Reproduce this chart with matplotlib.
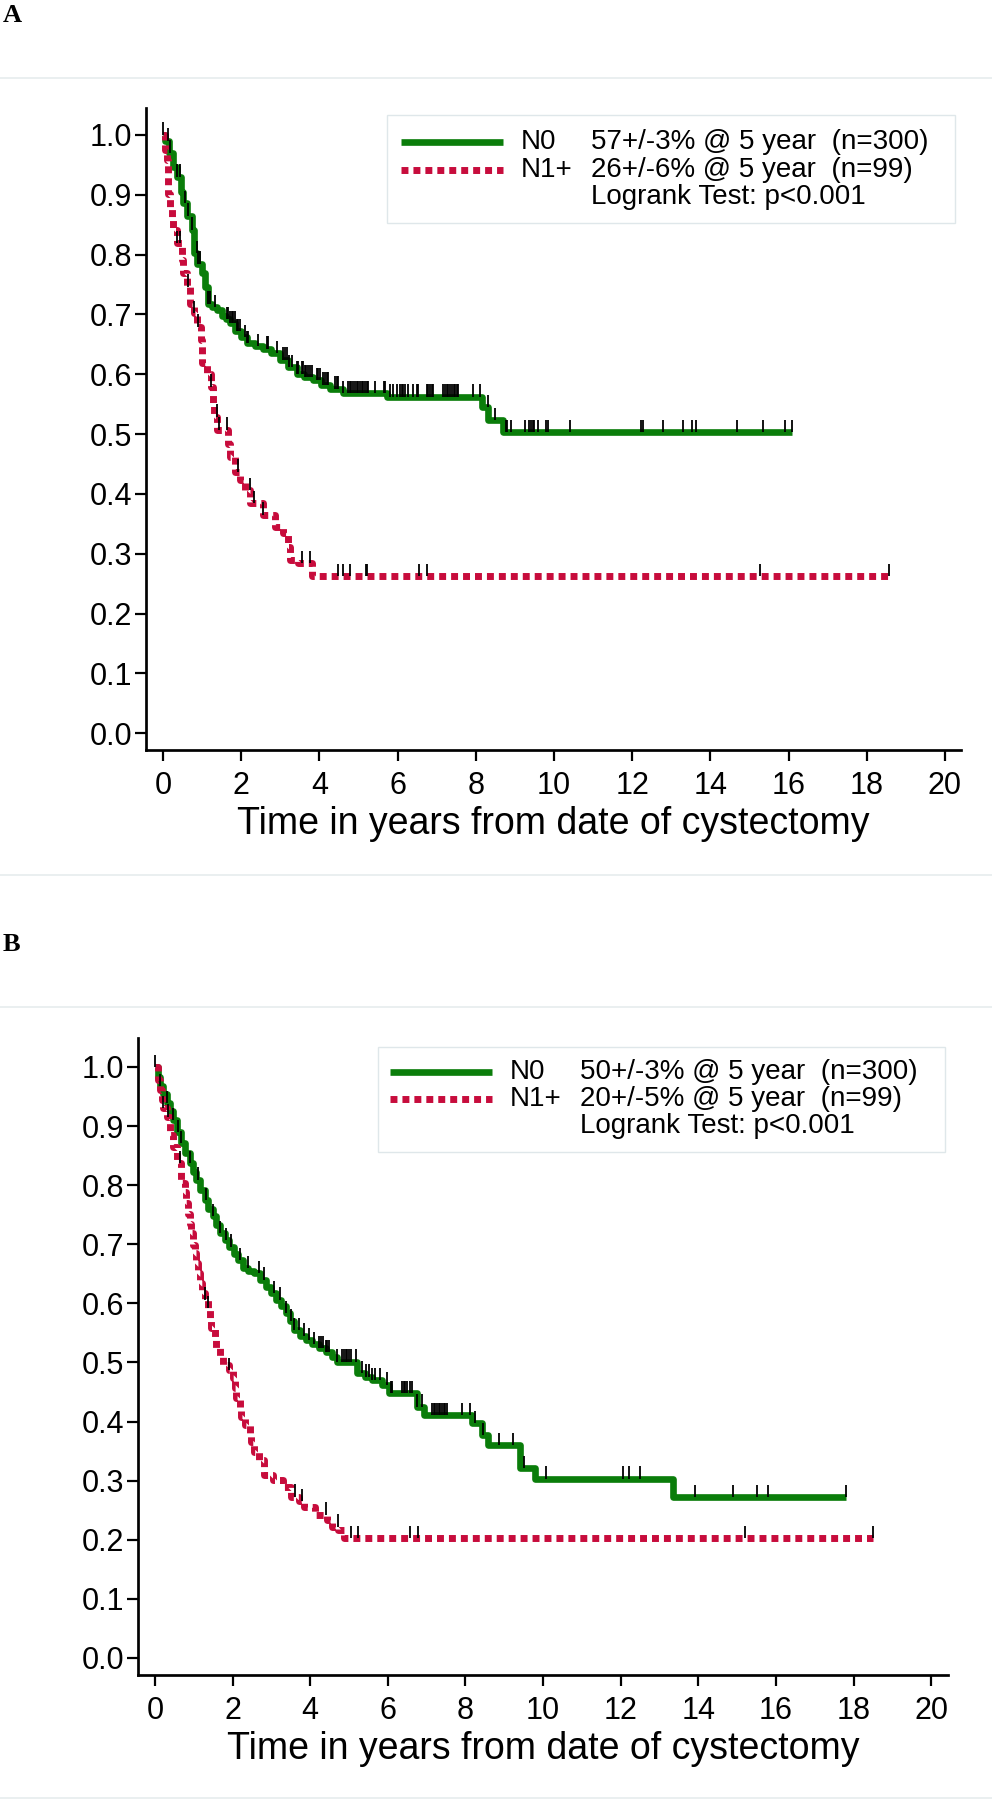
import numpy as np
import matplotlib.pyplot as plt
from matplotlib.lines import Line2D
from matplotlib.patches import Rectangle

W, H = 992, 1800
GREEN = '#0a7d0a'
RED = '#c70c3c'
FONT = ['Liberation Sans', 'DejaVu Sans']

# ---- panel A : overall survival ----
a_n0_t = [0, 0.05, 0.15, 0.26, 0.35, 0.45, 0.52, 0.62, 0.73, 0.78, 0.88, 0.99, 1.08, 1.16, 1.25,
          1.37, 1.50, 1.60, 1.71, 1.85, 2.00, 2.14, 2.35, 2.57, 2.75, 2.99, 3.20, 3.42, 3.60, 3.84,
          4.05, 4.27, 4.61, 5.72, 8.15, 8.32, 8.70]
a_n0_s = [1.0, 0.99, 0.97, 0.947, 0.93, 0.905, 0.886, 0.865, 0.841, 0.802, 0.785, 0.769, 0.745, 0.718,
          0.712, 0.707, 0.698, 0.692, 0.685, 0.672, 0.662, 0.652, 0.647, 0.643, 0.635, 0.624, 0.612,
          0.601, 0.595, 0.590, 0.582, 0.576, 0.568, 0.562, 0.545, 0.523, 0.503]
a_n0_end = 16.09
a_n0_cens = [0.01, 0.14, 0.18, 0.35, 0.44, 0.56, 0.65, 0.73, 0.86, 0.90, 0.95, 1.16, 1.20, 1.33,
             1.63, 1.67, 1.71, 1.76, 1.80, 1.84, 1.88, 1.93, 1.97, 2.10, 2.14, 2.18, 2.44, 2.65,
             2.69, 2.91, 3.08, 3.12, 3.16, 3.21, 3.29, 3.42, 3.46, 3.55, 3.59, 3.63, 3.67, 3.72,
             3.76, 3.80, 3.93, 3.97, 4.02, 4.10, 4.14, 4.19, 4.23, 4.40, 4.44, 4.48, 4.61, 4.74,
             4.78, 4.82, 4.87, 4.91, 4.95, 4.99, 5.04, 5.08, 5.12, 5.17, 5.21, 5.25, 5.42, 5.64,
             5.68, 5.81, 5.89, 5.98, 6.06, 6.10, 6.15, 6.19, 6.27, 6.40, 6.49, 6.53, 6.74, 6.79,
             6.83, 6.87, 6.91, 7.17, 7.21, 7.26, 7.30, 7.34, 7.38, 7.43, 7.47, 7.51, 7.55, 7.94,
             8.12, 8.30, 8.48, 8.76, 8.80, 8.89, 9.26, 9.37, 9.42, 9.46, 9.49, 9.58, 9.79, 9.85,
             10.42, 12.23, 12.27, 12.80, 13.30, 13.53, 13.64, 14.67, 15.35, 15.92, 16.09]

a_n1_t = [0, 0.05, 0.09, 0.14, 0.18, 0.22, 0.26, 0.35, 0.48, 0.52, 0.61, 0.69, 0.78, 0.86, 0.97,
          1.00, 1.12, 1.24, 1.27, 1.30, 1.39, 1.67, 1.71, 1.84, 1.97, 2.10, 2.23, 2.57, 2.86, 3.08,
          3.20, 3.25, 3.46, 3.80]
a_n1_s = [1.0, 0.975, 0.958, 0.902, 0.880, 0.863, 0.841, 0.819, 0.791, 0.769, 0.746, 0.718, 0.702,
          0.679, 0.657, 0.618, 0.601, 0.579, 0.551, 0.529, 0.507, 0.484, 0.462, 0.437, 0.423, 0.406,
          0.384, 0.365, 0.345, 0.334, 0.312, 0.289, 0.284, 0.262]
a_n1_end = 18.58
a_n1_cens = [0.35, 0.43, 0.65, 0.78, 0.90, 1.24, 1.37, 1.42, 1.63, 1.93, 2.22, 2.33, 2.57, 3.56,
             3.77, 4.48, 4.61, 4.78, 5.18, 5.22, 6.54, 6.76, 15.26, 18.58]

a_labels = ['N0', 'N1+']
a_stats = ['57+/-3% @ 5 year  (n=300)', '26+/-6% @ 5 year  (n=99)', 'Logrank Test: p<0.001']

# ---- panel B ----
b_n0_t = [0, 0.07, 0.13, 0.20, 0.30, 0.38, 0.47, 0.57, 0.68, 0.78, 0.90, 0.98, 1.07, 1.17, 1.28,
          1.38, 1.50, 1.58, 1.67, 1.80, 1.92, 2.03, 2.14, 2.26, 2.40, 2.56, 2.70, 2.86, 3.00, 3.12,
          3.25, 3.38, 3.48, 3.59, 3.75, 3.89, 4.05, 4.23, 4.40, 4.57, 4.70, 5.21, 5.40, 5.60, 5.85,
          6.03, 6.75, 6.92, 8.18, 8.42, 8.59, 9.40, 9.80, 13.35]
b_n0_s = [1.0, 0.983, 0.967, 0.955, 0.939, 0.925, 0.910, 0.890, 0.871, 0.855, 0.837, 0.822, 0.809,
          0.792, 0.775, 0.760, 0.747, 0.733, 0.719, 0.707, 0.696, 0.684, 0.673, 0.659, 0.655, 0.651,
          0.640, 0.628, 0.617, 0.606, 0.595, 0.583, 0.570, 0.555, 0.545, 0.538, 0.531, 0.524, 0.517,
          0.510, 0.501, 0.482, 0.476, 0.470, 0.462, 0.448, 0.425, 0.411, 0.397, 0.377, 0.360, 0.321,
          0.303, 0.272]
b_n0_end = 17.8
b_n0_cens = [0.0, 0.13, 0.30, 0.47, 0.60, 0.68, 0.90, 1.11, 1.32, 1.50, 1.67, 1.84, 1.97, 2.18,
             2.39, 2.69, 2.82, 3.08, 3.21, 3.38, 3.50, 3.59, 3.72, 3.85, 3.97, 4.10, 4.23, 4.27,
             4.32, 4.40, 4.44, 4.49, 4.70, 4.83, 4.87, 4.91, 4.96, 5.00, 5.04, 5.17, 5.34, 5.43,
             5.51, 5.60, 5.68, 5.81, 5.98, 6.07, 6.11, 6.37, 6.41, 6.45, 6.50, 6.58, 6.62, 6.75,
             6.88, 7.14, 7.18, 7.22, 7.27, 7.31, 7.35, 7.39, 7.44, 7.48, 7.52, 7.91, 8.12, 8.25,
             8.46, 8.87, 9.22, 9.50, 10.07, 12.07, 12.2, 12.5, 13.9, 14.9, 15.5, 15.8, 17.8]

b_n1_t = [0, 0.09, 0.13, 0.17, 0.21, 0.30, 0.38, 0.47, 0.56, 0.68, 0.77, 0.81, 0.85, 0.90, 0.94,
          0.98, 1.03, 1.07, 1.11, 1.15, 1.20, 1.28, 1.37, 1.41, 1.45, 1.54, 1.58, 1.67, 1.75, 1.90,
          2.01, 2.05, 2.09, 2.18, 2.22, 2.31, 2.44, 2.48, 2.56, 2.69, 2.82, 3.03, 3.29, 3.50, 3.70,
          3.84, 4.13, 4.42, 4.56, 4.72, 4.87]
b_n1_s = [1.0, 0.978, 0.961, 0.944, 0.930, 0.916, 0.885, 0.865, 0.837, 0.803, 0.789, 0.769, 0.752,
          0.735, 0.719, 0.699, 0.685, 0.668, 0.651, 0.634, 0.617, 0.606, 0.592, 0.575, 0.558, 0.541,
          0.524, 0.510, 0.496, 0.487, 0.473, 0.456, 0.439, 0.423, 0.408, 0.394, 0.380, 0.366, 0.349,
          0.335, 0.310, 0.301, 0.290, 0.273, 0.265, 0.255, 0.242, 0.233, 0.222, 0.217, 0.203]
b_n1_end = 18.5
b_n1_cens = [0.21, 0.34, 0.64, 1.28, 1.37, 1.92, 3.60, 3.80, 4.41, 4.71, 5.04, 5.22, 6.56, 6.78,
             15.2, 18.5]

b_labels = ['N0', 'N1+']
b_stats = ['50+/-3% @ 5 year  (n=300)', '20+/-5% @ 5 year  (n=99)', 'Logrank Test: p<0.001']

xticks = list(range(0, 21, 2))
yticks = [i / 10 for i in range(11)]


def fx(px):
    return px / W


def fy(py):
    return 1 - py / H


def surv_at(times, surv, t):
    idx = np.searchsorted(times, t, side='right') - 1
    return np.asarray(surv)[idx]


def red_line(**kw):
    return dict(color=RED, lw=5, ls=(0, (1.0, 0.72)), dash_capstyle='butt', **kw)


def green_line(**kw):
    return dict(color=GREEN, lw=4.8, solid_capstyle='butt', **kw)


def panel(box, xlim, ylim, curves, legend, labels, stats):
    ax = fig.add_axes(box)
    for t, s, end, cens, style in curves:
        ax.plot(list(t) + [end], list(s) + [s[-1]], drawstyle='steps-post', zorder=2, **style)
        cs = surv_at(t, s, np.array(cens))
        ax.vlines(cens, cs, cs + 0.021, color='black', lw=1.3, zorder=3)
    ax.set_xlim(*xlim)
    ax.set_ylim(*ylim)
    ax.set_xticks(xticks)
    ax.set_yticks(yticks)
    ax.set_yticklabels([f'{v:.1f}' for v in yticks])
    for side in ['top', 'right']:
        ax.spines[side].set_visible(False)
    for side in ['left', 'bottom']:
        ax.spines[side].set_linewidth(1.95)
    ax.tick_params(direction='out', length=7.8, width=1.6, labelsize=22)
    ax.tick_params(axis='x', pad=7)
    ax.tick_params(axis='y', pad=2)
    for lab in ax.get_xticklabels() + ax.get_yticklabels():
        lab.set_family(FONT)
    ax.set_xlabel('Time in years from date of cystectomy', fontsize=27, family=FONT, labelpad=4)

    # legend box drawn by hand (two text columns)
    x0, y0, x1, y1, lx0, lx1, tx, sx, ly = legend
    fig.patches.append(Rectangle((fx(x0), fy(y1)), fx(x1 - x0), (y1 - y0) / H,
                                 transform=fig.transFigure, fill=False,
                                 ec='#dfe7ea', lw=1.0))
    fig.lines.append(Line2D([fx(lx0), fx(lx1)], [fy(ly[0])] * 2, transform=fig.transFigure,
                            **green_line()))
    fig.lines.append(Line2D([fx(lx0), fx(lx1)], [fy(ly[1])] * 2, transform=fig.transFigure,
                            **red_line()))
    for i in range(2):
        fig.text(fx(tx), fy(ly[i]), labels[i], fontsize=20, family=FONT, va='center')
    for i in range(3):
        fig.text(fx(sx), fy(ly[i]), stats[i], fontsize=20, family=FONT, va='center')
    return ax


fig = plt.figure(figsize=(W / 100, H / 100), dpi=100)

# separators and panel letters
for y in [78, 875, 1007, 1798]:
    fig.lines.append(Line2D([0, 1], [fy(y)] * 2, transform=fig.transFigure,
                            color='#e6eced', lw=1.2))
fig.text(fx(3), fy(16), 'A', fontsize=19, weight='bold', family='Liberation Serif', va='center')
fig.text(fx(3), fy(944), 'B', fontsize=19, weight='bold', family='Liberation Serif', va='center')

panel([fx(146), fy(750), (961 - 146) / W, (750 - 108) / H],
      (-0.435, 20.41), (-0.028, 1.045),
      [(a_n0_t, a_n0_s, a_n0_end, a_n0_cens, green_line()),
       (a_n1_t, a_n1_s, a_n1_end, a_n1_cens, red_line())],
      (387, 115, 955, 223, 401, 503, 521, 591, [142, 170, 197]),
      a_labels, a_stats)

panel([fx(138), fy(1675), (948 - 138) / W, (1675 - 1038) / H],
      (-0.436, 20.43), (-0.029, 1.049),
      [(b_n0_t, b_n0_s, b_n0_end, b_n0_cens, green_line()),
       (b_n1_t, b_n1_s, b_n1_end, b_n1_cens, red_line())],
      (378, 1047, 945, 1152, 390, 492, 510, 580, [1072, 1099, 1126]),
      b_labels, b_stats)

fig.savefig('out.png', dpi=100)
